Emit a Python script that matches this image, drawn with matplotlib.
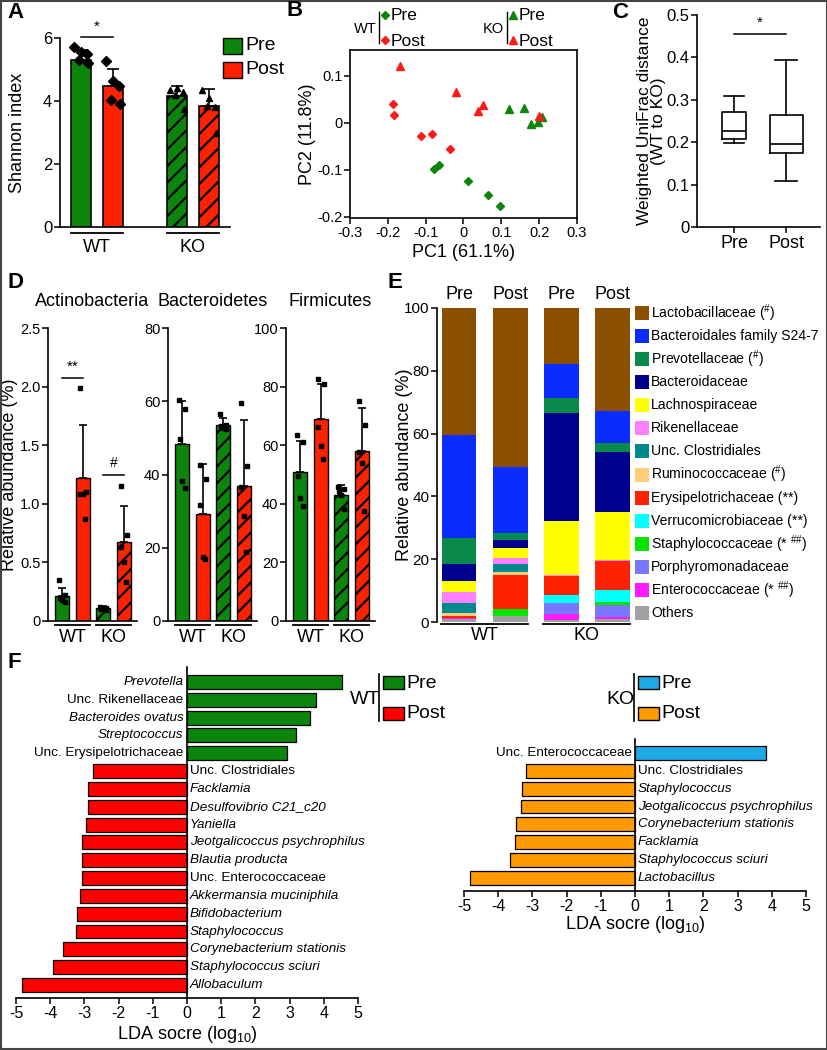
import numpy as np
import matplotlib
matplotlib.use("Agg")
import matplotlib.pyplot as plt
from matplotlib.patches import Rectangle

plt.rcParams["font.family"] = ["Liberation Sans", "DejaVu Sans"]
plt.rcParams["hatch.linewidth"] = 1.6
plt.rcParams["axes.linewidth"] = 1.2
plt.rcParams["axes.unicode_minus"] = False
plt.rcParams["mathtext.default"] = "regular"

W, H = 828, 1050
GREEN = "#0b850b"
RED = "#ff2200"
BLUE = "#1eaae6"
ORANGE = "#ff9a00"

groups = ["WT", "KO"]
conds = ["Pre", "Post"]

# A - Shannon index (WT pre, WT post, KO pre, KO post)
shannon_mean = [5.29, 4.48, 4.15, 3.83]
shannon_sd = [0.32, 0.55, 0.32, 0.56]
shannon_pts = [[5.71, 5.56, 5.5, 5.29, 5.2],
               [5.26, 4.63, 4.47, 4.04, 3.89],
               [4.36, 4.42, 4.29, 4.2, 3.76],
               [4.36, 4.11, 3.8, 3.85, 2.98]]

# B - PCoA
wt_pre_pc1 = [-0.078, -0.066, 0.011, 0.064, 0.096]
wt_pre_pc2 = [-0.098, -0.089, -0.125, -0.153, -0.178]
wt_post_pc1 = [-0.186, -0.184, -0.113, -0.082, -0.036]
wt_post_pc2 = [0.039, 0.016, -0.029, -0.024, -0.057]
ko_pre_pc1 = [0.121, 0.159, 0.179, 0.196, 0.208]
ko_pre_pc2 = [0.030, 0.032, -0.003, 0.001, 0.012]
ko_post_pc1 = [-0.169, -0.019, 0.039, 0.051, 0.200]
ko_post_pc2 = [0.120, 0.065, 0.024, 0.037, 0.014]

# C - weighted UniFrac WT to KO
unifrac_lo = [0.197, 0.108]
unifrac_q1 = [0.208, 0.175]
unifrac_med = [0.226, 0.195]
unifrac_q3 = [0.271, 0.265]
unifrac_hi = [0.308, 0.393]

# D - phyla
act_mean = [0.21, 1.22, 0.11, 0.67]
act_sd = [0.07, 0.45, 0.02, 0.31]
act_pts = [[0.35, 0.22, 0.2, 0.18, 0.16], [1.99, 1.1, 1.08, 1.08, 0.87],
           [0.12, 0.11, 0.1, 0.1, 0.09], [1.15, 0.73, 0.63, 0.5, 0.33]]
bact_mean = [48.4, 29.2, 53.5, 36.8]
bact_sd = [11.6, 13.8, 2.0, 18.1]
bact_pts = [[60.3, 58.0, 49.6, 38.3, 36.3], [42.5, 38.8, 31.8, 17.5, 17.0],
            [56.5, 53.5, 53.2, 52.8, 52.3], [59.6, 42.4, 36.5, 28.8, 18.8]]
firm_mean = [50.7, 68.8, 43.1, 58.0]
firm_sd = [10.7, 12.2, 3.4, 14.6]
firm_pts = [[63.4, 61.2, 49.5, 42.0, 39.2], [82.7, 81.0, 66.2, 59.8, 55.4],
            [45.6, 45.0, 44.4, 43.0, 38.2], [75.2, 66.8, 57.7, 54.0, 37.6]]

# E - family composition, legend order (top of stack first)
families = ["Lactobacillaceae", "Bacteroidales family S24-7", "Prevotellaceae",
            "Bacteroidaceae", "Lachnospiraceae", "Rikenellaceae", "Unc. Clostridiales",
            "Ruminococcaceae", "Erysipelotrichaceae", "Verrucomicrobiaceae",
            "Staphylococcaceae", "Porphyromonadaceae", "Enterococcaceae", "Others"]
family_marks = [r" ($^{\#}$)", "", r" ($^{\#}$)", "", "", "", "", r" ($^{\#}$)",
                " (**)", " (**)", r" (* $^{\#\#}$)", "", r" (* $^{\#\#}$)", ""]
family_colors = ["#8b4f00", "#0a2cff", "#0a8a4a", "#00008f", "#ffff00", "#ff80ff",
                 "#00898c", "#ffcc77", "#ff2200", "#00ffff", "#00e600", "#7878ff",
                 "#ff1aff", "#a0a0a0"]
wt_pre_comp = [40.4, 32.7, 8.5, 5.3, 3.5, 3.6, 3.0, 1.2, 0.5, 0.0, 0.0, 0.1, 0.2, 1.0]
wt_post_comp = [50.5, 21.0, 2.5, 2.5, 3.2, 1.9, 2.4, 1.0, 11.0, 0.0, 2.0, 0.1, 0.1, 1.8]
ko_pre_comp = [17.9, 10.9, 4.7, 34.3, 17.2, 0.3, 0.0, 0.0, 6.2, 2.3, 0.0, 3.5, 2.2, 0.5]
ko_post_comp = [32.7, 10.4, 2.7, 19.1, 15.4, 0.3, 0.0, 0.0, 9.2, 3.8, 1.1, 3.7, 0.5, 1.1]

# F - LEfSe
wt_taxa = ["Prevotella", "Unc. Rikenellaceae", "Bacteroides ovatus", "Streptococcus",
           "Unc. Erysipelotrichaceae", "Unc. Clostridiales", "Facklamia",
           "Desulfovibrio C21_c20", "Yaniella", "Jeotgalicoccus psychrophilus",
           "Blautia producta", "Unc. Enterococcaceae", "Akkermansia muciniphila",
           "Bifidobacterium", "Staphylococcus", "Corynebacterium stationis",
           "Staphylococcus sciuri", "Allobaculum"]
wt_lda = [4.54, 3.76, 3.61, 3.19, 2.93, -2.75, -2.89, -2.89, -2.94, -3.07, -3.07,
          -3.07, -3.14, -3.23, -3.26, -3.62, -3.91, -4.81]
ko_taxa = ["Unc. Enterococcaceae", "Unc. Clostridiales", "Staphylococcus",
           "Jeotgalicoccus psychrophilus", "Corynebacterium stationis", "Facklamia",
           "Staphylococcus sciuri", "Lactobacillus"]
ko_lda = [3.83, -3.2, -3.3, -3.33, -3.49, -3.52, -3.66, -4.81]

fig = plt.figure(figsize=(W / 100, H / 100), dpi=100)


def px_axes(left, top, right, bottom):
    return fig.add_axes([left / W, 1 - bottom / H, (right - left) / W, (bottom - top) / H])


def clean(ax, fs=11):
    for s in ["top", "right"]:
        ax.spines[s].set_visible(False)
    ax.tick_params(labelsize=fs, length=4, width=1.1, pad=1.5)


def bar_dots(ax, xs, means, sds, pts, markers, ms, width, jit, cap, lw):
    for i in range(4):
        col = GREEN if i % 2 == 0 else RED
        hatch = "//" if i >= 2 else None
        ax.bar(xs[i], means[i], width, color=col, edgecolor="black", linewidth=lw,
               hatch=hatch, zorder=2)
        ax.errorbar(xs[i], means[i], yerr=[[0], [sds[i]]], color="black", capsize=cap,
                    lw=1.2, capthick=1.2, zorder=3)
        ax.plot(xs[i] + np.array(jit), pts[i], ls="none", marker=markers[i], ms=ms,
                color="black", zorder=4)


def group_marks(ax, centers, half, ax_h, line_off, text_off, fs):
    trans = ax.get_xaxis_transform()
    for lab, c in zip(groups, centers):
        ax.plot([c - half, c + half], [-line_off / ax_h] * 2, color="black", lw=1.3,
                transform=trans, clip_on=False)
        ax.text(c, -text_off / ax_h, lab, transform=trans, ha="center", va="center",
                fontsize=fs)


# ---- A
axA = px_axes(60, 38, 230, 227)
clean(axA, 12)
bar_dots(axA, [0, 1, 3, 4], shannon_mean, shannon_sd, shannon_pts, ["D", "D", "^", "^"],
         5, 0.62, [-0.22, 0.0, 0.2, -0.05, 0.22], 4, 1.2)
axA.set_xlim(-0.66, 4.66)
axA.set_ylim(0, 6)
axA.set_xticks([])
axA.set_yticks([0, 2, 4, 6])
axA.set_ylabel("Shannon index", fontsize=13)
axA.yaxis.set_label_coords(-0.2, 0.5)
group_marks(axA, [0.5, 3.5], 0.81, 189, 6, 21, 13)
axA.plot([0, 1], [6.03, 6.03], color="black", lw=1.1, clip_on=False)
axA.text(0.5, 6.12, "*", ha="center", va="bottom", fontsize=11)

# ---- B
axB = px_axes(350, 50, 577, 218)
axB.tick_params(labelsize=10.5, length=4, width=1.1, pad=1.5)
axB.plot(wt_pre_pc1, wt_pre_pc2, ls="none", marker="D", ms=4.5, color=GREEN)
axB.plot(wt_post_pc1, wt_post_pc2, ls="none", marker="D", ms=4.5, color="#ff1a1a")
axB.plot(ko_pre_pc1, ko_pre_pc2, ls="none", marker="^", ms=6, color=GREEN)
axB.plot(ko_post_pc1, ko_post_pc2, ls="none", marker="^", ms=6, color="#ff1a1a")
axB.set_xlim(-0.3, 0.3)
axB.set_ylim(-0.203, 0.155)
axB.set_xticks([-0.3, -0.2, -0.1, 0, 0.1, 0.2, 0.3])
axB.set_xticklabels(["-0.3", "-0.2", "-0.1", "0", "0.1", "0.2", "0.3"])
axB.set_yticks([-0.2, -0.1, 0, 0.1])
axB.set_yticklabels(["-0.2", "-0.1", "0", "0.1"])
axB.set_xlabel("PC1 (61.1%)", fontsize=13)
axB.set_ylabel("PC2 (11.8%)", fontsize=13)
axB.xaxis.set_label_coords(0.5, -0.155)
axB.yaxis.set_label_coords(-0.148, 0.5)

# ---- C
axC = px_axes(697, 15, 820, 227)
clean(axC, 12)
stats = []
for i in range(2):
    stats.append({"whislo": unifrac_lo[i], "q1": unifrac_q1[i], "med": unifrac_med[i],
                  "q3": unifrac_q3[i], "whishi": unifrac_hi[i], "fliers": []})
lp = dict(color="black", lw=1.2)
axC.bxp(stats, positions=[1, 2], widths=[0.45, 0.63], capwidths=[0.4, 0.42],
        boxprops=lp, whiskerprops=lp, capprops=lp, medianprops=lp, showfliers=False)
axC.set_xlim(0.29, 2.65)
axC.set_ylim(0, 0.5)
axC.set_yticks([0, 0.1, 0.2, 0.3, 0.4, 0.5])
axC.set_yticklabels(["0", "0.1", "0.2", "0.3", "0.4", "0.5"])
axC.set_xticks([1, 2])
axC.set_xticklabels(conds, fontsize=13)
axC.set_ylabel("Weighted UniFrac distance\n(WT to KO)", fontsize=12.5, linespacing=0.95)
axC.yaxis.set_label_coords(-0.25, 0.5)
axC.plot([1, 2], [0.455, 0.455], color="black", lw=1.1)
axC.text(1.5, 0.465, "*", ha="center", va="bottom", fontsize=11)

# ---- D
d_specs = [("Actinobacteria", 48, act_mean, act_sd, act_pts, 2.5, 0.5,
            ["0", "0.5", "1.0", "1.5", "2.0", "2.5"]),
           ("Bacteroidetes", 168, bact_mean, bact_sd, bact_pts, 80, 20, None),
           ("Firmicutes", 286, firm_mean, firm_sd, firm_pts, 100, 20, None)]
d_axes = []
for title, left, mean, sd, pts, top, step, labs in d_specs:
    ax = px_axes(left, 328, left + 89, 621)
    clean(ax, 10.5)
    bar_dots(ax, [0, 1, 2, 3], mean, sd, pts, ["s"] * 4, 3.2, 0.68,
             [-0.15, 0.15, -0.12, 0.0, 0.12], 3, 1.0)
    ax.set_xlim(-0.7, 3.65)
    ax.set_ylim(0, top)
    ticks = np.arange(0, top + step / 2, step)
    ax.set_yticks(ticks)
    if labs:
        ax.set_yticklabels(labs)
    ax.set_xticks([])
    ax.set_title(title, fontsize=13, pad=16)
    group_marks(ax, [0.5, 2.5], 0.84, 293, 4, 16, 13)
    d_axes.append(ax)
d_axes[0].set_ylabel("Relative abundance (%)", fontsize=13)
d_axes[0].yaxis.set_label_coords(-0.335, 0.5)
d_axes[0].plot([0, 1], [2.07, 2.07], color="black", lw=1.1)
d_axes[0].text(0.5, 2.11, "**", ha="center", va="bottom", fontsize=11)
d_axes[0].plot([2, 3], [1.25, 1.25], color="black", lw=1.1)
d_axes[0].text(2.5, 1.29, "#", ha="center", va="bottom", fontsize=10)

# ---- E
axE = px_axes(437, 308, 632, 622)
clean(axE, 11)
axE.spines["bottom"].set_visible(False)
comps = [wt_pre_comp, wt_post_comp, ko_pre_comp, ko_post_comp]
for j, comp in enumerate(comps):
    bottom = 0
    for k in range(len(families) - 1, -1, -1):
        axE.bar(j, comp[k], 0.68, bottom=bottom, color=family_colors[k], linewidth=0)
        bottom += comp[k]
    axE.text(j, 100 + 1.5, conds[j % 2], ha="center", va="bottom", fontsize=13)
axE.set_xlim(-0.43, 3.38)
axE.set_ylim(0, 100)
axE.set_yticks([0, 20, 40, 60, 80, 100])
axE.set_xticks([])
axE.set_ylabel("Relative abundance (%)", fontsize=13)
axE.yaxis.set_label_coords(-0.123, 0.5)
group_marks(axE, [0.5, 2.5], 0.85, 314, 2, 14, 13)


# ---- F
def lda_panel(ax, taxa, vals, pos_col, neg_col):
    n = len(taxa)
    cols = [pos_col if v > 0 else neg_col for v in vals]
    ax.barh(range(n), vals, 0.78, color=cols, edgecolor="black", linewidth=0.9, zorder=2)
    for i, (t, v) in enumerate(zip(taxa, vals)):
        style = "normal" if t.startswith("Unc.") else "italic"
        if v > 0:
            ax.text(-0.1, i, t, ha="right", va="center", fontsize=9.7, style=style)
        else:
            ax.text(0.08, i, t, ha="left", va="center", fontsize=9.7, style=style)
    ax.set_xlim(-5, 5)
    ax.spines["left"].set_position(("data", 0))
    ax.spines["top"].set_visible(False)
    ax.spines["right"].set_visible(False)
    ax.set_yticks([])
    ax.set_xticks(range(-5, 6))
    ax.tick_params(labelsize=11.5, length=4, width=1.1, pad=1.5)
    ax.set_xlabel("LDA socre (log$_{10}$)", fontsize=13)


axF1 = px_axes(16, 667, 358, 998)
lda_panel(axF1, wt_taxa, wt_lda, GREEN, "#ff0000")
axF1.set_ylim(17.73, -0.84)
axF1.xaxis.set_label_coords(0.5, -26 / 331)

axF2 = px_axes(464, 739, 806, 891)
lda_panel(axF2, ko_taxa, ko_lda, BLUE, ORANGE)
axF2.set_ylim(7.73, -0.78)
axF2.xaxis.set_label_coords(0.5, -23 / 152)

# ---- overlay: panel letters, legends, frame
ov = fig.add_axes([0, 0, 1, 1])
ov.set_xlim(0, W)
ov.set_ylim(H, 0)
ov.axis("off")

for letter, x, y in [("A", 7, 13), ("B", 287, 10), ("C", 612, 12), ("D", 8, 283),
                     ("E", 388, 283), ("F", 8, 663)]:
    ov.text(x, y, letter, fontsize=16, fontweight="bold", ha="left", va="center")

# A legend
for k, (lab, col) in enumerate(zip(conds, [GREEN, RED])):
    ov.add_patch(Rectangle((223, 38 + k * 24), 19, 16, facecolor=col, edgecolor="black", lw=1))
    ov.text(245, 46 + k * 24, lab, fontsize=14, va="center", ha="left")

# B legend
for gx, lab, mk, ms in [(365, "WT", "D", 4.5), (493, "KO", "^", 5.5)]:
    ov.text(gx, 29, lab, fontsize=10.5, ha="center", va="center")
    ov.plot([gx + 14, gx + 14], [12, 43], color="black", lw=1)
    for k, (cl, col) in enumerate(zip(conds, [GREEN, "#ff1a1a"])):
        ov.plot(gx + 20, 15 + k * 25, marker=mk, ms=ms, color=col)
        ov.text(gx + 26, 16 + k * 25, cl, fontsize=12.5, ha="left", va="center")

# E legend
for k, (fam, mark, col) in enumerate(zip(families, family_marks, family_colors)):
    yc = 313 + k * 23.08
    ov.add_patch(Rectangle((635, yc - 7), 14, 14, facecolor=col, edgecolor="none"))
    ov.text(651, yc, fam + mark, fontsize=10.1, ha="left", va="center")

# F legends
for gx, lab, cols in [(365, "WT", [GREEN, "#ff0000"]), (620, "KO", [BLUE, ORANGE])]:
    ov.text(gx, 700, lab, fontsize=14, ha="center", va="center")
    ov.plot([gx + 14, gx + 14], [674, 721], color="black", lw=1.2)
    for k, (cl, col) in enumerate(zip(conds, cols)):
        ov.add_patch(Rectangle((gx + 18, 676 + k * 31), 21, 13, facecolor=col,
                               edgecolor="black", lw=1))
        ov.text(gx + 41, 683 + k * 31, cl, fontsize=14, ha="left", va="center")

ov.add_patch(Rectangle((1, 1), W - 2, H - 2, fill=False, edgecolor="#444444", lw=1.5))

fig.savefig("out.png", dpi=100)
